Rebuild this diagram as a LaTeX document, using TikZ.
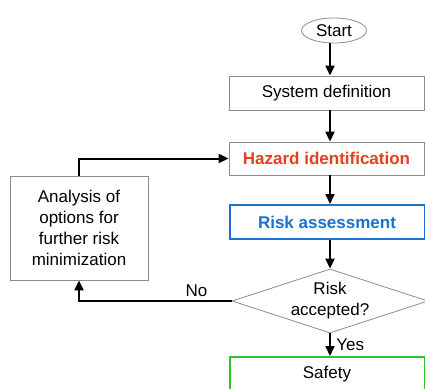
\documentclass[tikz,border=0pt]{standalone}
\usepackage{fontspec}
\setmainfont{Liberation Sans}
\usetikzlibrary{shapes.geometric,arrows.meta}
\definecolor{hazardred}{RGB}{232,62,30}
\definecolor{riskblue}{RGB}{30,112,208}
\definecolor{safegreen}{RGB}{40,200,40}
\definecolor{boxgray}{RGB}{140,140,140}

\begin{document}
\begin{tikzpicture}[x=1pt,y=-1pt,
        font=\fontsize{17}{21}\selectfont,
        stepbox/.style={draw=boxgray,line width=0.8pt,rectangle,minimum width=195pt,minimum height=34pt,inner sep=0pt},
        flow/.style={line width=2pt,-{Triangle[length=10pt,width=9pt]}}]
        \clip (0,0) rectangle (425,388);
        \node[draw=boxgray,ellipse,line width=0.8pt,minimum width=65pt,minimum height=25pt,inner sep=0pt] (start) at (334,30.5) {Start};
        \node[stepbox] (sysdef) at (326.5,93) {System definition};
        \node[stepbox,minimum height=33pt,text=hazardred,font=\fontsize{17}{21}\selectfont\bfseries] (hazard) at (326.5,158.5) {Hazard identification};
        \node[stepbox,draw=riskblue,line width=2pt,text=riskblue,font=\fontsize{17}{21}\selectfont\bfseries] (risk) at (327,222) {Risk assessment};
        \node[draw=boxgray,diamond,aspect=3,line width=0.8pt,minimum width=196pt,minimum height=64pt,inner sep=0pt,align=center] (accept) at (330,301) {Risk\\accepted?};
        \node[stepbox,draw=safegreen,line width=2pt] (safety) at (327,374) {Safety};
        \node[draw=boxgray,line width=0.8pt,minimum width=138pt,minimum height=104pt,inner sep=0pt,align=center] (options) at (79,228) {Analysis of\\options for\\further risk\\minimization};
        \draw[flow] (start.south -| 330,0) -- (sysdef.north -| 330,0);
        \draw[flow] (sysdef.south -| 330,0) -- (hazard.north -| 330,0);
        \draw[flow] (hazard.south -| 330,0) -- (risk.north -| 330,0);
        \draw[flow] (risk.south -| 330,0) -- (accept.north);
        \draw[flow] (accept.south) -- node[right,xshift=2pt] {Yes} (safety.north -| 330,0);
        \draw[flow] (accept.west) -- node[above,pos=0.23] {No} (accept.west -| options.south) -- (options.south);
        \draw[flow] (options.north) |- (hazard.west);
    \end{tikzpicture}
\end{document}
